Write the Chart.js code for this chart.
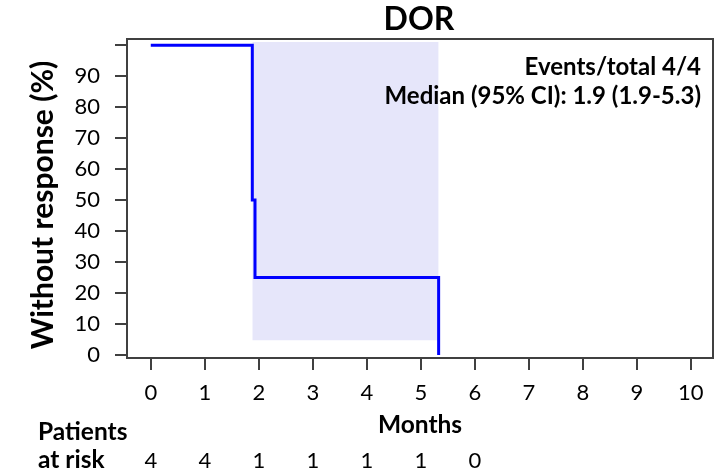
<!DOCTYPE html>
<html><head><meta charset="utf-8">
<script src="https://cdn.jsdelivr.net/npm/chart.js@4"></script>
<style>html,body{margin:0;padding:0;background:#fff;overflow:hidden}canvas{display:block}</style>
</head><body>
<canvas id="c" width="724" height="471"></canvas>
<script>
// ---- data ----
const chartTitle = 'DOR';
const yAxisTitle = 'Without response (%)';
const xAxisTitle = 'Months';
const riskTitleLines = ['Patients', 'at risk'];
const kmTimes = [0, 1.88, 1.93, 5.33];
const kmSurvival = [100, 50, 25, 0];
const ciTimes = [1.88, 5.33];
const ciUpper = [101, 101];
const ciLower = [4.7, 4.7];
const xTickValues = [0, 1, 2, 3, 4, 5, 6, 7, 8, 9, 10];
const xTickLabels = ['0', '1', '2', '3', '4', '5', '6', '7', '8', '9', '10'];
const yTickValues = [0, 10, 20, 30, 40, 50, 60, 70, 80, 90, 100];
const yTickLabels = ['0', '10', '20', '30', '40', '50', '60', '70', '80', '90', ''];
const riskTimes = [0, 1, 2, 3, 4, 5, 6];
const riskCounts = ['4', '4', '1', '1', '1', '1', '0'];
const annotationLines = ['Events/total 4/4', 'Median (95% CI): 1.9 (1.9-5.3)'];

// ---- styles ----
const AXIS = '#404040';
const FONT = 'Lato';

const overlay = {
  id: 'overlay',
  afterDraw(chart) {
    const { ctx, chartArea: a, scales: { x } } = chart;
    ctx.save();
    ctx.strokeStyle = AXIS;
    ctx.lineWidth = 2;
    ctx.beginPath();
    ctx.moveTo(a.left - 1, a.top);
    ctx.lineTo(a.right, a.top);
    ctx.lineTo(a.right, a.bottom + 1);
    ctx.stroke();

    ctx.fillStyle = '#000';
    ctx.textBaseline = 'alphabetic';
    // title
    ctx.font = `bold 32px ${FONT}`;
    ctx.textAlign = 'center';
    ctx.fillText(chartTitle, 419, 30);

    // annotation
    ctx.font = `bold 24px ${FONT}`;
    ctx.textAlign = 'right';
    ctx.fillText(annotationLines[0], a.right - 12, 75);
    ctx.fillText(annotationLines[1], a.right - 12, 104);

    // x title
    ctx.font = `bold 24.5px ${FONT}`;
    ctx.textAlign = 'center';
    ctx.fillText(xAxisTitle, 420, 433);

    // y title
    ctx.save();
    ctx.translate(53, 205);
    ctx.rotate(-Math.PI / 2);
    ctx.font = `bold 30px ${FONT}`;
    ctx.textAlign = 'center';
    ctx.fillText(yAxisTitle, 0, 0);
    ctx.restore();

    // at-risk table
    ctx.font = `bold 24.5px ${FONT}`;
    ctx.textAlign = 'left';
    ctx.fillText(riskTitleLines[0], 38, 440);
    ctx.fillText(riskTitleLines[1], 38, 468);
    ctx.font = `22px ${FONT}`;
    ctx.textAlign = 'center';
    riskTimes.forEach((t, i) => {
      ctx.fillText(riskCounts[i], x.getPixelForValue(t), 468);
    });
    ctx.restore();
  }
};

new Chart(document.getElementById('c'), {
  type: 'line',
  data: {
    datasets: [
      {
        label: 'KM',
        data: kmTimes.map((t, i) => ({ x: t, y: kmSurvival[i] })),
        borderColor: '#0000ff',
        borderWidth: 3,
        stepped: true,
        pointRadius: 0,
        fill: false,
        order: 0
      },
      {
        label: 'CI upper',
        data: ciTimes.map((t, i) => ({ x: t, y: ciUpper[i] })),
        borderWidth: 0,
        borderColor: 'rgba(0,0,0,0)',
        backgroundColor: '#e6e6fa',
        pointRadius: 0,
        fill: '+1',
        order: 1
      },
      {
        label: 'CI lower',
        data: ciTimes.map((t, i) => ({ x: t, y: ciLower[i] })),
        borderWidth: 0,
        borderColor: 'rgba(0,0,0,0)',
        pointRadius: 0,
        fill: false,
        order: 2
      }
    ]
  },
  options: {
    responsive: false,
    devicePixelRatio: 1,
    animation: false,
    layout: { padding: { left: 0, top: 39, right: 11, bottom: 0 } },
    plugins: { legend: { display: false }, tooltip: { enabled: false }, title: { display: false } },
    scales: {
      x: {
        type: 'linear',
        min: -0.44,
        max: 10.41,
        afterBuildTicks: s => { s.ticks = xTickValues.map(v => ({ value: v })); },
        afterFit: s => { s.height = 113; },
        grid: { drawOnChartArea: false, drawTicks: true, tickLength: 12, color: AXIS, lineWidth: 2 },
        border: { display: true, color: AXIS, width: 2 },
        ticks: {
          font: { family: FONT, size: 22 },
          color: '#000',
          padding: 10,
          maxRotation: 0,
          autoSkip: false,
          callback: (v, i) => xTickLabels[i]
        }
      },
      y: {
        type: 'linear',
        min: -1,
        max: 102,
        afterBuildTicks: s => { s.ticks = yTickValues.map(v => ({ value: v })); },
        afterFit: s => { s.width = 127; },
        grid: { drawOnChartArea: false, drawTicks: true, tickLength: 12, color: AXIS, lineWidth: 2 },
        border: { display: true, color: AXIS, width: 2 },
        ticks: {
          font: { family: FONT, size: 22 },
          color: '#000',
          padding: 15,
          autoSkip: false,
          callback: (v, i) => yTickLabels[i]
        }
      }
    }
  },
  plugins: [overlay]
});
</script>
</body></html>
